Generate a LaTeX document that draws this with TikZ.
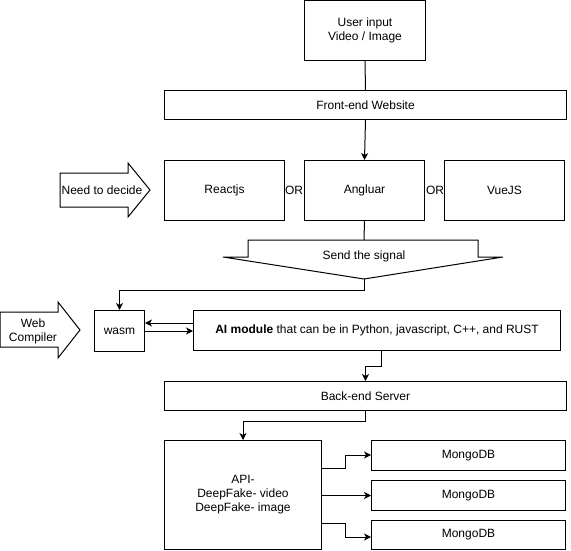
\documentclass[tikz,border=0pt]{standalone}
\usepackage{fontspec}
\setmainfont{Liberation Sans}
\usetikzlibrary{arrows.meta}
\begin{document}
\begin{tikzpicture}[x=1pt,y=-1pt,line width=1pt,
        font=\fontsize{12}{14}\selectfont,
        box/.style={draw,anchor=north west,inner sep=0pt,align=center},
        lbl/.style={inner sep=0pt,align=center},
        arr/.style={-{Stealth[length=7pt,width=7pt,inset=2pt]}}]
    \useasboundingbox (0,0) rectangle (571,551);
    \node[box,minimum width=121pt,minimum height=60pt] (user) at (304,0) {User input\\Video / Image};
    \node[box,minimum width=402pt,minimum height=29pt] (front) at (164,90) {Front-end Website};
    \node[box,minimum width=120pt,minimum height=60pt] (react) at (164,160) {Reactjs};
    \node[box,minimum width=120pt,minimum height=60pt] (angular) at (304,160) {Angluar};
    \node[box,minimum width=120pt,minimum height=60pt] (vue) at (444,160) {VueJS};
    \node[lbl] (or1) at (294,190) {OR};
    \node[lbl] (or2) at (435,190) {OR};
    \draw (60,173) -- (128,173) -- (128,163) -- (150,190) -- (128,217) -- (128,207) -- (60,207) -- cycle;
    \node[lbl] (decide) at (102,190) {Need to decide};
    \draw (248,240) -- (478,240) -- (478,257) -- (503,257) -- (364,279) -- (223,257) -- (248,257) -- cycle;
    \node[lbl] (signal) at (364,256) {Send the signal};
    \coordinate (stop) at (364,240);
    \coordinate (sbot) at (364,279);
    \draw (0,312) -- (58,312) -- (58,302) -- (80,330) -- (58,358) -- (58,347) -- (0,347) -- cycle;
    \node[lbl] (compiler) at (33,331) {Web\\Compiler};
    \node[box,minimum width=50pt,minimum height=41pt] (wasm) at (94,310) {wasm};
    \node[box,minimum width=367pt,minimum height=40pt] (ai) at (193,310) {\textbf{AI module} that can be in Python, javascript, C++, and RUST};
    \node[box,minimum width=402pt,minimum height=29pt] (back) at (164,381) {Back-end Server};
    \node[box,minimum width=157pt,minimum height=109pt] (api) at (164,440) {API-\\DeepFake- video\\DeepFake- image};
    \node[box,minimum width=194pt,minimum height=30pt] (mongo1) at (371,440) {MongoDB};
    \node[box,minimum width=194pt,minimum height=30pt] (mongo2) at (371,480) {MongoDB};
    \node[box,minimum width=194pt,minimum height=29pt] (mongo3) at (371,520) {MongoDB};
    \draw (user.south) -- (front.north);
    \draw[arr] (front.south) -- (angular.north);
    \draw (angular.south) -- (stop);
    \draw[arr] (sbot) -- ++(0,11) -| (wasm.north);
    \draw[arr] (ai.west |- 0,323) -- (wasm.east |- 0,323);
    \draw[arr] (wasm.east |- 0,331) -- (ai.west |- 0,331);
    \draw[arr] (ai.south -| 381,0) -- ++(0,15) -| (back.north);
    \draw[arr] (back.south) -- ++(0,10) -| (api.north);
    \draw[arr] (api.east |- 0,468) -| (345,455) -- (mongo1.west |- 0,455);
    \draw[arr] (api.east |- mongo2.west) -- (mongo2.west);
    \draw[arr] (api.east |- 0,523) -| (345,537) -- (mongo3.west |- 0,537);
\end{tikzpicture}
\end{document}
